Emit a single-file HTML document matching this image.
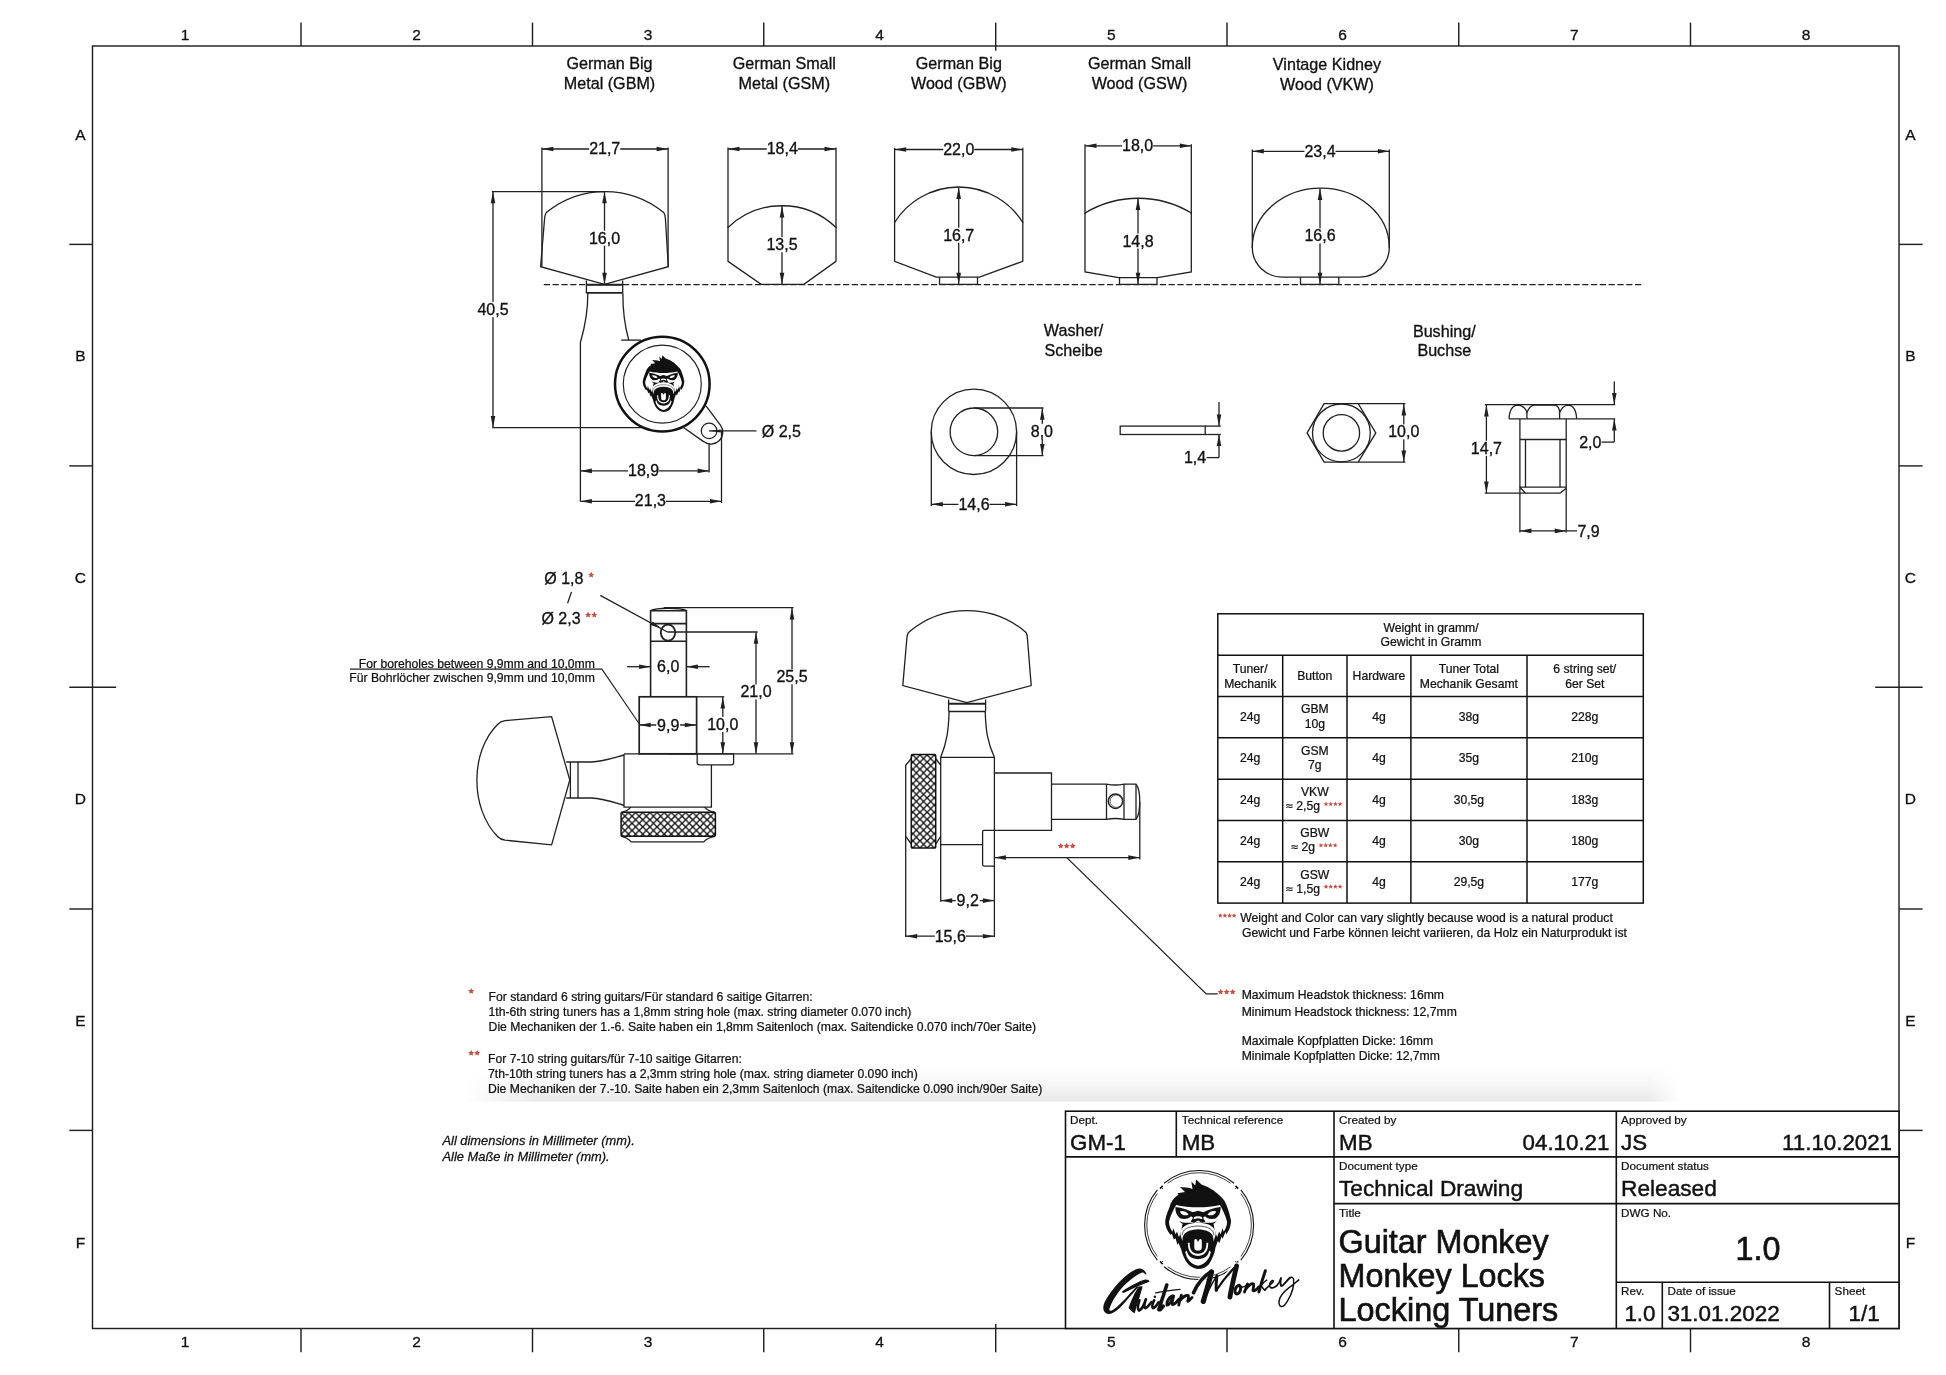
<!DOCTYPE html>
<html><head><meta charset="utf-8"><title>Guitar Monkey Locking Tuners - Technical Drawing</title>
<style>
html,body{margin:0;padding:0;background:#fff;}
body{width:1946px;height:1375px;overflow:hidden;font-family:"Liberation Sans",sans-serif;}
svg{display:block;will-change:transform;font-family:"Liberation Sans",sans-serif;}
svg text{white-space:pre;}
</style></head><body>
<svg width="1946" height="1375" viewBox="0 0 1946 1375">
<rect width="1946" height="1375" fill="#fff"/>
<rect x="92.5" y="46.0" width="1806.5" height="1282.5" fill="none" stroke="#202020" stroke-width="1.45"/>
<line x1="301.00" y1="22.60" x2="301.00" y2="46.00" stroke="#202020" stroke-width="1.45" />
<line x1="301.00" y1="1328.50" x2="301.00" y2="1352.30" stroke="#202020" stroke-width="1.45" />
<line x1="532.50" y1="22.60" x2="532.50" y2="46.00" stroke="#202020" stroke-width="1.45" />
<line x1="532.50" y1="1328.50" x2="532.50" y2="1352.30" stroke="#202020" stroke-width="1.45" />
<line x1="763.75" y1="22.60" x2="763.75" y2="46.00" stroke="#202020" stroke-width="1.45" />
<line x1="763.75" y1="1328.50" x2="763.75" y2="1352.30" stroke="#202020" stroke-width="1.45" />
<line x1="995.70" y1="22.60" x2="995.70" y2="50.70" stroke="#202020" stroke-width="1.45" />
<line x1="995.70" y1="1324.00" x2="995.70" y2="1352.30" stroke="#202020" stroke-width="1.45" />
<line x1="1227.00" y1="22.60" x2="1227.00" y2="46.00" stroke="#202020" stroke-width="1.45" />
<line x1="1227.00" y1="1328.50" x2="1227.00" y2="1352.30" stroke="#202020" stroke-width="1.45" />
<line x1="1458.75" y1="22.60" x2="1458.75" y2="46.00" stroke="#202020" stroke-width="1.45" />
<line x1="1458.75" y1="1328.50" x2="1458.75" y2="1352.30" stroke="#202020" stroke-width="1.45" />
<line x1="1690.50" y1="22.60" x2="1690.50" y2="46.00" stroke="#202020" stroke-width="1.45" />
<line x1="1690.50" y1="1328.50" x2="1690.50" y2="1352.30" stroke="#202020" stroke-width="1.45" />
<line x1="69.30" y1="244.40" x2="92.50" y2="244.40" stroke="#202020" stroke-width="1.45" />
<line x1="1899.00" y1="244.40" x2="1922.60" y2="244.40" stroke="#202020" stroke-width="1.45" />
<line x1="69.30" y1="465.90" x2="92.50" y2="465.90" stroke="#202020" stroke-width="1.45" />
<line x1="1899.00" y1="465.90" x2="1922.60" y2="465.90" stroke="#202020" stroke-width="1.45" />
<line x1="69.30" y1="687.20" x2="116.20" y2="687.20" stroke="#202020" stroke-width="1.45" />
<line x1="1875.20" y1="687.20" x2="1922.60" y2="687.20" stroke="#202020" stroke-width="1.45" />
<line x1="69.30" y1="909.00" x2="92.50" y2="909.00" stroke="#202020" stroke-width="1.45" />
<line x1="1899.00" y1="909.00" x2="1922.60" y2="909.00" stroke="#202020" stroke-width="1.45" />
<line x1="69.30" y1="1130.40" x2="92.50" y2="1130.40" stroke="#202020" stroke-width="1.45" />
<line x1="1899.00" y1="1130.40" x2="1922.60" y2="1130.40" stroke="#202020" stroke-width="1.45" />
<text x="185.00" y="40.10" font-size="15.5" text-anchor="middle" fill="#111" stroke="#111" stroke-width="0.31" >1</text>
<text x="185.00" y="1346.50" font-size="15.5" text-anchor="middle" fill="#111" stroke="#111" stroke-width="0.31" >1</text>
<text x="416.50" y="40.10" font-size="15.5" text-anchor="middle" fill="#111" stroke="#111" stroke-width="0.31" >2</text>
<text x="416.50" y="1346.50" font-size="15.5" text-anchor="middle" fill="#111" stroke="#111" stroke-width="0.31" >2</text>
<text x="648.00" y="40.10" font-size="15.5" text-anchor="middle" fill="#111" stroke="#111" stroke-width="0.31" >3</text>
<text x="648.00" y="1346.50" font-size="15.5" text-anchor="middle" fill="#111" stroke="#111" stroke-width="0.31" >3</text>
<text x="879.50" y="40.10" font-size="15.5" text-anchor="middle" fill="#111" stroke="#111" stroke-width="0.31" >4</text>
<text x="879.50" y="1346.50" font-size="15.5" text-anchor="middle" fill="#111" stroke="#111" stroke-width="0.31" >4</text>
<text x="1111.30" y="40.10" font-size="15.5" text-anchor="middle" fill="#111" stroke="#111" stroke-width="0.31" >5</text>
<text x="1111.30" y="1346.50" font-size="15.5" text-anchor="middle" fill="#111" stroke="#111" stroke-width="0.31" >5</text>
<text x="1342.60" y="40.10" font-size="15.5" text-anchor="middle" fill="#111" stroke="#111" stroke-width="0.31" >6</text>
<text x="1342.60" y="1346.50" font-size="15.5" text-anchor="middle" fill="#111" stroke="#111" stroke-width="0.31" >6</text>
<text x="1574.40" y="40.10" font-size="15.5" text-anchor="middle" fill="#111" stroke="#111" stroke-width="0.31" >7</text>
<text x="1574.40" y="1346.50" font-size="15.5" text-anchor="middle" fill="#111" stroke="#111" stroke-width="0.31" >7</text>
<text x="1806.00" y="40.10" font-size="15.5" text-anchor="middle" fill="#111" stroke="#111" stroke-width="0.31" >8</text>
<text x="1806.00" y="1346.50" font-size="15.5" text-anchor="middle" fill="#111" stroke="#111" stroke-width="0.31" >8</text>
<text x="80.40" y="140.00" font-size="15.5" text-anchor="middle" fill="#111" stroke="#111" stroke-width="0.31" >A</text>
<text x="1910.40" y="140.00" font-size="15.5" text-anchor="middle" fill="#111" stroke="#111" stroke-width="0.31" >A</text>
<text x="80.40" y="360.50" font-size="15.5" text-anchor="middle" fill="#111" stroke="#111" stroke-width="0.31" >B</text>
<text x="1910.40" y="360.50" font-size="15.5" text-anchor="middle" fill="#111" stroke="#111" stroke-width="0.31" >B</text>
<text x="80.40" y="582.50" font-size="15.5" text-anchor="middle" fill="#111" stroke="#111" stroke-width="0.31" >C</text>
<text x="1910.40" y="582.50" font-size="15.5" text-anchor="middle" fill="#111" stroke="#111" stroke-width="0.31" >C</text>
<text x="80.40" y="804.30" font-size="15.5" text-anchor="middle" fill="#111" stroke="#111" stroke-width="0.31" >D</text>
<text x="1910.40" y="804.30" font-size="15.5" text-anchor="middle" fill="#111" stroke="#111" stroke-width="0.31" >D</text>
<text x="80.40" y="1026.20" font-size="15.5" text-anchor="middle" fill="#111" stroke="#111" stroke-width="0.31" >E</text>
<text x="1910.40" y="1026.20" font-size="15.5" text-anchor="middle" fill="#111" stroke="#111" stroke-width="0.31" >E</text>
<text x="80.40" y="1248.20" font-size="15.5" text-anchor="middle" fill="#111" stroke="#111" stroke-width="0.31" >F</text>
<text x="1910.40" y="1248.20" font-size="15.5" text-anchor="middle" fill="#111" stroke="#111" stroke-width="0.31" >F</text>
<text x="609.50" y="69.30" font-size="16.15" text-anchor="middle" fill="#111" stroke="#111" stroke-width="0.32" >German Big</text>
<text x="609.50" y="89.20" font-size="16.15" text-anchor="middle" fill="#111" stroke="#111" stroke-width="0.32" >Metal (GBM)</text>
<text x="784.30" y="69.30" font-size="16.15" text-anchor="middle" fill="#111" stroke="#111" stroke-width="0.32" >German Small</text>
<text x="784.30" y="89.20" font-size="16.15" text-anchor="middle" fill="#111" stroke="#111" stroke-width="0.32" >Metal (GSM)</text>
<text x="958.80" y="69.30" font-size="16.15" text-anchor="middle" fill="#111" stroke="#111" stroke-width="0.32" >German Big</text>
<text x="958.80" y="89.20" font-size="16.15" text-anchor="middle" fill="#111" stroke="#111" stroke-width="0.32" >Wood (GBW)</text>
<text x="1139.50" y="69.30" font-size="16.15" text-anchor="middle" fill="#111" stroke="#111" stroke-width="0.32" >German Small</text>
<text x="1139.50" y="89.20" font-size="16.15" text-anchor="middle" fill="#111" stroke="#111" stroke-width="0.32" >Wood (GSW)</text>
<text x="1327.00" y="70.00" font-size="16.15" text-anchor="middle" fill="#111" stroke="#111" stroke-width="0.32" >Vintage Kidney</text>
<text x="1327.00" y="89.90" font-size="16.15" text-anchor="middle" fill="#111" stroke="#111" stroke-width="0.32" >Wood (VKW)</text>
<text x="1073.60" y="335.80" font-size="16.15" text-anchor="middle" fill="#111" stroke="#111" stroke-width="0.32" >Washer/</text>
<text x="1073.60" y="355.60" font-size="16.15" text-anchor="middle" fill="#111" stroke="#111" stroke-width="0.32" >Scheibe</text>
<text x="1444.30" y="336.80" font-size="16.15" text-anchor="middle" fill="#111" stroke="#111" stroke-width="0.32" >Bushing/</text>
<text x="1444.30" y="356.40" font-size="16.15" text-anchor="middle" fill="#111" stroke="#111" stroke-width="0.32" >Buchse</text>
<line x1="543.80" y1="284.60" x2="1641.50" y2="284.60" stroke="#202020" stroke-width="1.3" stroke-dasharray="6.2 2.6"/>
<line x1="541.90" y1="147.50" x2="541.90" y2="266.50" stroke="#202020" stroke-width="1.3" />
<line x1="668.10" y1="147.50" x2="668.10" y2="266.50" stroke="#202020" stroke-width="1.3" />
<line x1="541.90" y1="149.00" x2="668.10" y2="149.00" stroke="#202020" stroke-width="1.3" />
<polygon points="541.90,149.00 553.40,146.70 553.40,151.30" fill="#202020"/>
<polygon points="668.10,149.00 656.60,146.70 656.60,151.30" fill="#202020"/>
<rect x="589.20" y="142.00" width="31.00" height="14.00" fill="#fff"/>
<text x="604.70" y="154.40" font-size="16" text-anchor="middle" fill="#111" stroke="#111" stroke-width="0.32" >21,7</text>
<path d="M546.3,212.5 A92.7,92.7 0 0 1 663.7,212.5 Q665.2,214.8 665.4,218.5 L668.3,266.7 L604.5,284.3 L540.6,266.7 L544.6,218.5 Q544.8,214.8 546.3,212.5 Z" stroke="#202020" stroke-width="1.3" fill="none" />
<line x1="604.50" y1="191.80" x2="604.50" y2="284.20" stroke="#202020" stroke-width="1.3" />
<polygon points="604.50,191.80 602.20,203.30 606.80,203.30" fill="#202020"/>
<polygon points="604.50,284.20 602.20,272.70 606.80,272.70" fill="#202020"/>
<rect x="601.50" y="230.70" width="6.00" height="15.00" fill="#fff"/>
<text x="604.50" y="243.70" font-size="16" text-anchor="middle" fill="#111" stroke="#111" stroke-width="0.32" >16,0</text>
<line x1="491.80" y1="191.60" x2="604.50" y2="191.60" stroke="#202020" stroke-width="1.3" />
<line x1="492.30" y1="427.60" x2="642.50" y2="427.60" stroke="#202020" stroke-width="1.3" />
<line x1="493.00" y1="191.80" x2="493.00" y2="427.40" stroke="#202020" stroke-width="1.3" />
<polygon points="493.00,191.80 490.70,203.30 495.30,203.30" fill="#202020"/>
<polygon points="493.00,427.40 490.70,415.90 495.30,415.90" fill="#202020"/>
<rect x="490.00" y="302.10" width="6.00" height="15.00" fill="#fff"/>
<text x="493.00" y="315.10" font-size="16" text-anchor="middle" fill="#111" stroke="#111" stroke-width="0.32" >40,5</text>
<line x1="586.40" y1="280.40" x2="586.40" y2="293.20" stroke="#202020" stroke-width="1.3" />
<line x1="622.70" y1="280.40" x2="622.70" y2="293.20" stroke="#202020" stroke-width="1.3" />
<line x1="586.40" y1="284.70" x2="622.70" y2="284.70" stroke="#202020" stroke-width="1.9" />
<line x1="586.40" y1="292.90" x2="622.70" y2="292.90" stroke="#202020" stroke-width="1.6" />
<path d="M587.8,293.2 C588,312 584,330 580.4,342.5 L580.4,501.5" stroke="#202020" stroke-width="1.3" fill="none" />
<path d="M622.9,293.2 C622.6,312 625.5,328 628.7,340.1" stroke="#202020" stroke-width="1.3" fill="none" />
<line x1="621.20" y1="340.10" x2="641.00" y2="340.10" stroke="#202020" stroke-width="1.3" />
<path d="M706.0,405.9 L720.6,425.3 A11.9,11.9 0 0 1 703.6,441.6 L683.8,427.8" stroke="#202020" stroke-width="1.3" fill="none" />
<circle cx="662.30" cy="384.10" r="47.30" stroke="#111" stroke-width="2.5" fill="#fff"/>
<circle cx="662.30" cy="384.10" r="39.00" stroke="#202020" stroke-width="1.15" fill="none"/>
<circle cx="709.10" cy="430.90" r="7.80" stroke="#202020" stroke-width="1.25" fill="none"/>
<line x1="709.10" y1="430.90" x2="756.50" y2="430.90" stroke="#202020" stroke-width="1.3" />
<polygon points="709.3,430.9 720.8,429.4 720.8,432.4" fill="#202020"/>
<text x="761.80" y="436.70" font-size="16" text-anchor="start" fill="#111" stroke="#111" stroke-width="0.32" >Ø 2,5</text>
<line x1="709.10" y1="442.90" x2="709.10" y2="472.50" stroke="#202020" stroke-width="1.3" />
<line x1="721.50" y1="430.50" x2="721.50" y2="503.00" stroke="#202020" stroke-width="1.3" />
<line x1="580.40" y1="470.90" x2="709.10" y2="470.90" stroke="#202020" stroke-width="1.3" />
<polygon points="580.40,470.90 591.90,468.60 591.90,473.20" fill="#202020"/>
<polygon points="709.10,470.90 697.60,468.60 697.60,473.20" fill="#202020"/>
<rect x="628.10" y="463.90" width="31.00" height="14.00" fill="#fff"/>
<text x="643.60" y="476.20" font-size="16" text-anchor="middle" fill="#111" stroke="#111" stroke-width="0.32" >18,9</text>
<line x1="580.40" y1="501.30" x2="721.50" y2="501.30" stroke="#202020" stroke-width="1.3" />
<polygon points="580.40,501.30 591.90,499.00 591.90,503.60" fill="#202020"/>
<polygon points="721.50,501.30 710.00,499.00 710.00,503.60" fill="#202020"/>
<rect x="634.90" y="494.30" width="31.00" height="14.00" fill="#fff"/>
<text x="650.40" y="506.30" font-size="16" text-anchor="middle" fill="#111" stroke="#111" stroke-width="0.32" >21,3</text>
<line x1="728.00" y1="147.50" x2="728.00" y2="228.00" stroke="#202020" stroke-width="1.3" />
<line x1="836.00" y1="147.50" x2="836.00" y2="228.00" stroke="#202020" stroke-width="1.3" />
<line x1="728.00" y1="149.00" x2="836.00" y2="149.00" stroke="#202020" stroke-width="1.3" />
<polygon points="728.00,149.00 739.50,146.70 739.50,151.30" fill="#202020"/>
<polygon points="836.00,149.00 824.50,146.70 824.50,151.30" fill="#202020"/>
<rect x="766.80" y="142.00" width="31.00" height="14.00" fill="#fff"/>
<text x="782.30" y="154.40" font-size="16" text-anchor="middle" fill="#111" stroke="#111" stroke-width="0.32" >18,4</text>
<path d="M728,227.5 A77.9,77.9 0 0 1 836,227.5 L836,261.3 L803.8,284.4 L761.2,284.4 L728,261.3 Z" stroke="#202020" stroke-width="1.3" fill="none" />
<line x1="782.00" y1="206.00" x2="782.00" y2="284.20" stroke="#202020" stroke-width="1.3" />
<polygon points="782.00,206.00 779.70,217.50 784.30,217.50" fill="#202020"/>
<polygon points="782.00,284.20 779.70,272.70 784.30,272.70" fill="#202020"/>
<rect x="779.00" y="237.20" width="6.00" height="15.00" fill="#fff"/>
<text x="782.00" y="250.20" font-size="16" text-anchor="middle" fill="#111" stroke="#111" stroke-width="0.32" >13,5</text>
<line x1="894.60" y1="147.80" x2="894.60" y2="223.00" stroke="#202020" stroke-width="1.3" />
<line x1="1022.80" y1="147.80" x2="1022.80" y2="223.00" stroke="#202020" stroke-width="1.3" />
<line x1="894.60" y1="149.50" x2="1022.80" y2="149.50" stroke="#202020" stroke-width="1.3" />
<polygon points="894.60,149.50 906.10,147.20 906.10,151.80" fill="#202020"/>
<polygon points="1022.80,149.50 1011.30,147.20 1011.30,151.80" fill="#202020"/>
<rect x="943.30" y="142.50" width="31.00" height="14.00" fill="#fff"/>
<text x="958.80" y="155.10" font-size="16" text-anchor="middle" fill="#111" stroke="#111" stroke-width="0.32" >22,0</text>
<path d="M894.6,222.5 A75.6,75.6 0 0 1 1022.8,222.5 L1022.8,261.3 L979.5,277.1 L936.3,277.1 L894.6,261.3 Z" stroke="#202020" stroke-width="1.3" fill="none" />
<path d="M939.5,277.1 L939.5,284.4 L977.5,284.4 L977.5,277.1" stroke="#202020" stroke-width="1.3" fill="none" />
<line x1="958.70" y1="187.40" x2="958.70" y2="284.20" stroke="#202020" stroke-width="1.3" />
<polygon points="958.70,187.40 956.40,198.90 961.00,198.90" fill="#202020"/>
<polygon points="958.70,284.20 956.40,272.70 961.00,272.70" fill="#202020"/>
<rect x="955.70" y="227.70" width="6.00" height="15.00" fill="#fff"/>
<text x="958.70" y="240.70" font-size="16" text-anchor="middle" fill="#111" stroke="#111" stroke-width="0.32" >16,7</text>
<line x1="1085.00" y1="144.20" x2="1085.00" y2="214.00" stroke="#202020" stroke-width="1.3" />
<line x1="1191.30" y1="144.20" x2="1191.30" y2="214.00" stroke="#202020" stroke-width="1.3" />
<line x1="1085.00" y1="145.80" x2="1191.30" y2="145.80" stroke="#202020" stroke-width="1.3" />
<polygon points="1085.00,145.80 1096.50,143.50 1096.50,148.10" fill="#202020"/>
<polygon points="1191.30,145.80 1179.80,143.50 1179.80,148.10" fill="#202020"/>
<rect x="1122.10" y="138.80" width="31.00" height="14.00" fill="#fff"/>
<text x="1137.60" y="150.70" font-size="16" text-anchor="middle" fill="#111" stroke="#111" stroke-width="0.32" >18,0</text>
<path d="M1085,213 A103.1,103.1 0 0 1 1191.3,213 L1191.3,272 L1157.5,277.6 L1118.8,277.6 L1085,272 Z" stroke="#202020" stroke-width="1.3" fill="none" />
<path d="M1119.5,277.6 L1119.5,284.4 L1157,284.4 L1157,277.6" stroke="#202020" stroke-width="1.3" fill="none" />
<line x1="1138.00" y1="198.50" x2="1138.00" y2="284.20" stroke="#202020" stroke-width="1.3" />
<polygon points="1138.00,198.50 1135.70,210.00 1140.30,210.00" fill="#202020"/>
<polygon points="1138.00,284.20 1135.70,272.70 1140.30,272.70" fill="#202020"/>
<rect x="1135.00" y="233.50" width="6.00" height="15.00" fill="#fff"/>
<text x="1138.00" y="246.50" font-size="16" text-anchor="middle" fill="#111" stroke="#111" stroke-width="0.32" >14,8</text>
<line x1="1252.30" y1="149.60" x2="1252.30" y2="248.00" stroke="#202020" stroke-width="1.3" />
<line x1="1389.30" y1="149.60" x2="1389.30" y2="248.00" stroke="#202020" stroke-width="1.3" />
<line x1="1252.30" y1="151.30" x2="1389.30" y2="151.30" stroke="#202020" stroke-width="1.3" />
<polygon points="1252.30,151.30 1263.80,149.00 1263.80,153.60" fill="#202020"/>
<polygon points="1389.30,151.30 1377.80,149.00 1377.80,153.60" fill="#202020"/>
<rect x="1304.50" y="144.30" width="31.00" height="14.00" fill="#fff"/>
<text x="1320.00" y="156.90" font-size="16" text-anchor="middle" fill="#111" stroke="#111" stroke-width="0.32" >23,4</text>
<path d="M1252.3,247.5 A68.5,59.3 0 0 1 1389.3,247.5 A30,29.6 0 0 1 1359.3,277.1 L1282.3,277.1 A30,29.6 0 0 1 1252.3,247.5 Z" stroke="#202020" stroke-width="1.3" fill="none" />
<path d="M1300.5,277.1 L1300.5,284.4 L1338.8,284.4 L1338.8,277.1" stroke="#202020" stroke-width="1.3" fill="none" />
<line x1="1320.00" y1="188.40" x2="1320.00" y2="284.20" stroke="#202020" stroke-width="1.3" />
<polygon points="1320.00,188.40 1317.70,199.90 1322.30,199.90" fill="#202020"/>
<polygon points="1320.00,284.20 1317.70,272.70 1322.30,272.70" fill="#202020"/>
<rect x="1317.00" y="228.40" width="6.00" height="15.00" fill="#fff"/>
<text x="1320.00" y="241.40" font-size="16" text-anchor="middle" fill="#111" stroke="#111" stroke-width="0.32" >16,6</text>
<circle cx="973.90" cy="431.80" r="42.70" stroke="#202020" stroke-width="1.3" fill="none"/>
<circle cx="973.90" cy="431.80" r="23.80" stroke="#202020" stroke-width="1.3" fill="none"/>
<line x1="973.90" y1="408.00" x2="1043.50" y2="408.00" stroke="#202020" stroke-width="1.3" />
<line x1="973.90" y1="455.60" x2="1043.50" y2="455.60" stroke="#202020" stroke-width="1.3" />
<line x1="1042.30" y1="408.20" x2="1042.30" y2="455.40" stroke="#202020" stroke-width="1.3" />
<polygon points="1042.30,408.20 1040.00,419.70 1044.60,419.70" fill="#202020"/>
<polygon points="1042.30,455.40 1040.00,443.90 1044.60,443.90" fill="#202020"/>
<rect x="1039.30" y="423.80" width="6.00" height="15.00" fill="#fff"/>
<text x="1041.90" y="436.80" font-size="16" text-anchor="middle" fill="#111" stroke="#111" stroke-width="0.32" >8,0</text>
<line x1="931.30" y1="431.80" x2="931.30" y2="506.00" stroke="#202020" stroke-width="1.3" />
<line x1="1016.60" y1="431.80" x2="1016.60" y2="506.00" stroke="#202020" stroke-width="1.3" />
<line x1="931.30" y1="504.30" x2="1016.60" y2="504.30" stroke="#202020" stroke-width="1.3" />
<polygon points="931.30,504.30 942.80,502.00 942.80,506.60" fill="#202020"/>
<polygon points="1016.60,504.30 1005.10,502.00 1005.10,506.60" fill="#202020"/>
<rect x="958.50" y="497.30" width="31.00" height="14.00" fill="#fff"/>
<text x="974.00" y="509.50" font-size="16" text-anchor="middle" fill="#111" stroke="#111" stroke-width="0.32" >14,6</text>
<rect x="1120.2" y="426.1" width="85.0" height="8.4" fill="none" stroke="#202020" stroke-width="1.3"/>
<line x1="1205.20" y1="426.10" x2="1220.80" y2="426.10" stroke="#202020" stroke-width="1.3" />
<line x1="1205.20" y1="434.50" x2="1220.80" y2="434.50" stroke="#202020" stroke-width="1.3" />
<line x1="1219.00" y1="402.00" x2="1219.00" y2="426.00" stroke="#202020" stroke-width="1.3" />
<polygon points="1219.00,426.00 1216.70,414.50 1221.30,414.50" fill="#202020"/>
<line x1="1219.00" y1="457.60" x2="1219.00" y2="434.60" stroke="#202020" stroke-width="1.3" />
<polygon points="1219.00,434.60 1216.70,446.10 1221.30,446.10" fill="#202020"/>
<line x1="1206.60" y1="457.60" x2="1219.00" y2="457.60" stroke="#202020" stroke-width="1.3" />
<text x="1206.20" y="463.20" font-size="16" text-anchor="end" fill="#111" stroke="#111" stroke-width="0.32" >1,4</text>
<path d="M1307.1,432.9 L1324.1,403.7 L1358.2,403.7 L1375.8,432.9 L1358.2,462.2 L1324.1,462.2 Z" stroke="#202020" stroke-width="1.3" fill="none" />
<circle cx="1341.40" cy="432.90" r="28.90" stroke="#202020" stroke-width="1.3" fill="none"/>
<circle cx="1341.40" cy="432.90" r="18.20" stroke="#202020" stroke-width="1.3" fill="none"/>
<line x1="1358.20" y1="403.70" x2="1405.40" y2="403.70" stroke="#202020" stroke-width="1.3" />
<line x1="1358.20" y1="462.20" x2="1405.40" y2="462.20" stroke="#202020" stroke-width="1.3" />
<line x1="1403.80" y1="403.90" x2="1403.80" y2="462.00" stroke="#202020" stroke-width="1.3" />
<polygon points="1403.80,403.90 1401.50,415.40 1406.10,415.40" fill="#202020"/>
<polygon points="1403.80,462.00 1401.50,450.50 1406.10,450.50" fill="#202020"/>
<rect x="1400.80" y="424.40" width="6.00" height="15.00" fill="#fff"/>
<text x="1403.80" y="437.40" font-size="16" text-anchor="middle" fill="#111" stroke="#111" stroke-width="0.32" >10,0</text>
<line x1="1484.80" y1="404.70" x2="1615.20" y2="404.70" stroke="#202020" stroke-width="1.3" />
<path d="M1509.0,418.9 C1509.5,409 1513,405.4 1518,405.2 C1523,405.4 1526.5,409 1526.9,413 C1528.5,408 1531,405.6 1534,405.2 L1554.5,405.2 C1557.5,405.6 1559.6,408 1559.6,413 C1561,409 1564,405.4 1568,405.2 C1573,405.4 1576.2,409 1576.6,418.9" stroke="#202020" stroke-width="1.3" fill="none" />
<line x1="1526.90" y1="413.00" x2="1526.90" y2="418.90" stroke="#202020" stroke-width="1.3" />
<line x1="1559.60" y1="413.00" x2="1559.60" y2="418.90" stroke="#202020" stroke-width="1.3" />
<line x1="1509.00" y1="418.90" x2="1615.20" y2="418.90" stroke="#202020" stroke-width="1.3" />
<line x1="1519.90" y1="418.90" x2="1519.90" y2="532.50" stroke="#202020" stroke-width="1.3" />
<line x1="1566.20" y1="418.90" x2="1566.20" y2="532.50" stroke="#202020" stroke-width="1.3" />
<line x1="1519.90" y1="439.50" x2="1566.20" y2="439.50" stroke="#202020" stroke-width="1.3" />
<line x1="1519.90" y1="487.20" x2="1566.20" y2="487.20" stroke="#202020" stroke-width="1.3" />
<line x1="1525.50" y1="439.50" x2="1525.50" y2="487.20" stroke="#202020" stroke-width="1.3" />
<line x1="1560.00" y1="439.50" x2="1560.00" y2="487.20" stroke="#202020" stroke-width="1.3" />
<path d="M1519.9,487.2 L1525.5,493.2 M1566.2,488.2 L1560.0,493.2" stroke="#202020" stroke-width="1.3" fill="none" />
<line x1="1484.80" y1="493.20" x2="1560.00" y2="493.20" stroke="#202020" stroke-width="1.3" />
<line x1="1486.40" y1="404.90" x2="1486.40" y2="493.00" stroke="#202020" stroke-width="1.3" />
<polygon points="1486.40,404.90 1484.10,416.40 1488.70,416.40" fill="#202020"/>
<polygon points="1486.40,493.00 1484.10,481.50 1488.70,481.50" fill="#202020"/>
<rect x="1483.40" y="440.80" width="6.00" height="15.00" fill="#fff"/>
<text x="1486.40" y="453.80" font-size="16" text-anchor="middle" fill="#111" stroke="#111" stroke-width="0.32" >14,7</text>
<line x1="1614.30" y1="381.40" x2="1614.30" y2="404.60" stroke="#202020" stroke-width="1.3" />
<polygon points="1614.30,404.60 1612.00,393.10 1616.60,393.10" fill="#202020"/>
<line x1="1614.30" y1="442.10" x2="1614.30" y2="419.00" stroke="#202020" stroke-width="1.3" />
<polygon points="1614.30,419.00 1612.00,430.50 1616.60,430.50" fill="#202020"/>
<line x1="1601.60" y1="442.10" x2="1614.30" y2="442.10" stroke="#202020" stroke-width="1.3" />
<text x="1601.40" y="447.70" font-size="16" text-anchor="end" fill="#111" stroke="#111" stroke-width="0.32" >2,0</text>
<line x1="1519.90" y1="530.90" x2="1577.00" y2="530.90" stroke="#202020" stroke-width="1.3" />
<polygon points="1519.90,530.90 1531.40,528.60 1531.40,533.20" fill="#202020"/>
<polygon points="1566.20,530.90 1554.70,528.60 1554.70,533.20" fill="#202020"/>
<text x="1577.40" y="536.50" font-size="16" text-anchor="start" fill="#111" stroke="#111" stroke-width="0.32" >7,9</text>
<text x="544.30" y="583.90" font-size="16" text-anchor="start" fill="#111" stroke="#111" stroke-width="0.32" >Ø 1,8</text>
<polygon points="591.20,571.60 592.07,573.70 594.34,573.88 592.61,575.36 593.14,577.57 591.20,576.38 589.26,577.57 589.79,575.36 588.06,573.88 590.33,573.70" fill="#ca4a3f"/>
<line x1="571.50" y1="591.90" x2="567.60" y2="603.20" stroke="#202020" stroke-width="1.3" />
<text x="541.40" y="623.50" font-size="16" text-anchor="start" fill="#111" stroke="#111" stroke-width="0.32" >Ø 2,3</text>
<polygon points="588.10,611.60 588.97,613.70 591.24,613.88 589.51,615.36 590.04,617.57 588.10,616.38 586.16,617.57 586.69,615.36 584.96,613.88 587.23,613.70" fill="#ca4a3f"/>
<polygon points="594.30,611.60 595.17,613.70 597.44,613.88 595.71,615.36 596.24,617.57 594.30,616.38 592.36,617.57 592.89,615.36 591.16,613.88 593.43,613.70" fill="#ca4a3f"/>
<line x1="600.30" y1="595.40" x2="667.40" y2="632.00" stroke="#202020" stroke-width="1.3" />
<polygon points="661.6,628.8 652.6,621.4 650.6,625.1" fill="#202020"/>
<path d="M650.6,696.5 L650.6,610.8 C656,607.4 681,607.4 686.4,610.8 L686.4,696.5" stroke="#202020" stroke-width="1.6" fill="none" />
<line x1="650.60" y1="610.80" x2="686.40" y2="610.80" stroke="#202020" stroke-width="1.6" />
<line x1="650.60" y1="623.60" x2="686.40" y2="623.60" stroke="#202020" stroke-width="1.6" />
<line x1="650.60" y1="641.20" x2="686.40" y2="641.20" stroke="#202020" stroke-width="1.6" />
<ellipse cx="668.0" cy="632.6" rx="7.2" ry="8.1" fill="none" stroke="#202020" stroke-width="1.8"/>
<line x1="663.70" y1="607.70" x2="793.50" y2="607.70" stroke="#202020" stroke-width="1.3" />
<line x1="667.40" y1="632.00" x2="757.60" y2="632.00" stroke="#202020" stroke-width="1.3" />
<line x1="668.60" y1="753.90" x2="793.50" y2="753.90" stroke="#202020" stroke-width="1.3" />
<line x1="792.00" y1="607.90" x2="792.00" y2="753.70" stroke="#202020" stroke-width="1.3" />
<polygon points="792.00,607.90 789.70,619.40 794.30,619.40" fill="#202020"/>
<polygon points="792.00,753.70 789.70,742.20 794.30,742.20" fill="#202020"/>
<rect x="789.00" y="669.30" width="6.00" height="15.00" fill="#fff"/>
<text x="792.00" y="682.30" font-size="16" text-anchor="middle" fill="#111" stroke="#111" stroke-width="0.32" >25,5</text>
<line x1="756.00" y1="632.20" x2="756.00" y2="753.70" stroke="#202020" stroke-width="1.3" />
<polygon points="756.00,632.20 753.70,643.70 758.30,643.70" fill="#202020"/>
<polygon points="756.00,753.70 753.70,742.20 758.30,742.20" fill="#202020"/>
<rect x="753.00" y="684.40" width="6.00" height="15.00" fill="#fff"/>
<text x="756.00" y="697.40" font-size="16" text-anchor="middle" fill="#111" stroke="#111" stroke-width="0.32" >21,0</text>
<line x1="627.10" y1="666.70" x2="650.60" y2="666.70" stroke="#202020" stroke-width="1.3" />
<polygon points="650.60,666.70 639.10,664.40 639.10,669.00" fill="#202020"/>
<line x1="709.70" y1="666.70" x2="686.40" y2="666.70" stroke="#202020" stroke-width="1.3" />
<polygon points="686.40,666.70 697.90,664.40 697.90,669.00" fill="#202020"/>
<text x="668.20" y="671.90" font-size="16" text-anchor="middle" fill="#111" stroke="#111" stroke-width="0.32" >6,0</text>
<rect x="639.2" y="696.8" width="57.4" height="57.0" fill="none" stroke="#202020" stroke-width="1.7"/>
<line x1="696.30" y1="696.80" x2="724.20" y2="696.80" stroke="#202020" stroke-width="1.3" />
<line x1="639.20" y1="725.00" x2="696.30" y2="725.00" stroke="#202020" stroke-width="1.3" />
<polygon points="639.20,725.00 650.70,722.70 650.70,727.30" fill="#202020"/>
<polygon points="696.30,725.00 684.80,722.70 684.80,727.30" fill="#202020"/>
<rect x="656.20" y="718.00" width="24.00" height="14.00" fill="#fff"/>
<text x="668.20" y="730.60" font-size="16" text-anchor="middle" fill="#111" stroke="#111" stroke-width="0.32" >9,9</text>
<line x1="722.80" y1="697.00" x2="722.80" y2="753.70" stroke="#202020" stroke-width="1.3" />
<polygon points="722.80,697.00 720.50,708.50 725.10,708.50" fill="#202020"/>
<polygon points="722.80,753.70 720.50,742.20 725.10,742.20" fill="#202020"/>
<rect x="719.80" y="716.90" width="6.00" height="15.00" fill="#fff"/>
<text x="722.80" y="729.90" font-size="16" text-anchor="middle" fill="#111" stroke="#111" stroke-width="0.32" >10,0</text>
<text x="594.90" y="667.70" font-size="12.18" text-anchor="end" fill="#111" stroke="#111" stroke-width="0.24" >For boreholes between 9,9mm and 10,0mm</text>
<text x="594.90" y="682.20" font-size="12.18" text-anchor="end" fill="#111" stroke="#111" stroke-width="0.24" >Für Bohrlöcher zwischen 9,9mm und 10,0mm</text>
<path d="M350.0,669.1 L601.9,669.1 L639.2,723.7" stroke="#202020" stroke-width="1.15" fill="none" />
<path d="M624.0,753.9 L734.0,753.9 M624.0,753.9 L624.0,807.2 L711.4,807.2 L711.4,764.8" stroke="#202020" stroke-width="1.3" fill="none" />
<path d="M697.2,753.9 L697.2,762.6 C697.2,764 698,764.8 699.4,764.8 L731.4,764.8 C732.8,764.8 733.6,764 733.6,762.6 L733.6,753.9" stroke="#202020" stroke-width="1.3" fill="none" />
<defs><pattern id="kn" width="7.15" height="7.15" patternUnits="userSpaceOnUse" patternTransform="translate(621.3,812.6)"><rect width="7.15" height="7.15" fill="#fff"/><path d="M-1,-1 L8.15,8.15 M-1,8.15 L8.15,-1" stroke="#111" stroke-width="1.35" fill="none"/></pattern>
<pattern id="kn2" width="7.15" height="7.15" patternUnits="userSpaceOnUse" patternTransform="translate(912.8,755.0)"><rect width="7.15" height="7.15" fill="#fff"/><path d="M-1,-1 L8.15,8.15 M-1,8.15 L8.15,-1" stroke="#111" stroke-width="1.35" fill="none"/></pattern></defs>
<path d="M621.5,812.3 C626,811.6 628.5,810 630.8,807.2 M704.5,807.2 C706.8,810 709.5,811.6 715,812.3" stroke="#202020" stroke-width="1.3" fill="none" />
<path d="M621.5,836.3 C626,837 628.5,839 631.2,841.9 L703.7,841.9 C706.4,839 709.5,837 715,836.3" stroke="#202020" stroke-width="1.3" fill="none" />
<rect x="621.1" y="812.3" width="94.3" height="24.0" rx="1.2" fill="url(#kn)" stroke="#111" stroke-width="1.5"/>
<path d="M578.0,762.0 L591.0,762.0 C604,761.5 613,758 624.0,755.0" stroke="#202020" stroke-width="1.3" fill="none" />
<path d="M578.0,798.0 L591.0,798.0 C604,798.5 613,802 624.0,805.4" stroke="#202020" stroke-width="1.3" fill="none" />
<path d="M566.2,762.0 L578.0,762.0 L578.0,798.0 L566.2,798.0" stroke="#202020" stroke-width="1.3" fill="none" />
<line x1="570.40" y1="762.00" x2="570.40" y2="798.00" stroke="#202020" stroke-width="1.3" />
<path d="M505,720.7 L551.6,716.6 L569.8,780.0 L551.6,844.9 L505,840.2 Q500.5,839.6 497.5,836.5 C470,808 470,752 497.5,724.5 Q500.5,721.3 505,720.7 Z" stroke="#202020" stroke-width="1.3" fill="none" />
<path d="M908.5,632.4 A90,90 0 0 1 1026,632.4 Q1027.3,634.5 1027.4,638 L1031.2,685.6 L966.8,702.6 L902.8,685.6 L906.9,638 Q907.2,634.5 908.5,632.4 Z" stroke="#202020" stroke-width="1.3" fill="none" />
<line x1="948.60" y1="699.50" x2="948.60" y2="711.50" stroke="#202020" stroke-width="1.3" />
<line x1="985.60" y1="699.50" x2="985.60" y2="711.50" stroke="#202020" stroke-width="1.3" />
<line x1="948.60" y1="703.80" x2="985.60" y2="703.80" stroke="#202020" stroke-width="1.9" />
<line x1="948.60" y1="711.60" x2="985.60" y2="711.60" stroke="#202020" stroke-width="1.5" />
<path d="M949.1,711.6 C948.5,730 947,742 940.7,757.3 L940.7,901.8" stroke="#202020" stroke-width="1.3" fill="none" />
<path d="M985.2,711.6 C985.8,730 987.3,742 994.4,757.3 L994.4,937.0" stroke="#202020" stroke-width="1.3" fill="none" />
<line x1="940.70" y1="757.30" x2="994.40" y2="757.30" stroke="#202020" stroke-width="1.3" />
<line x1="940.70" y1="844.60" x2="982.60" y2="844.60" stroke="#202020" stroke-width="1.3" />
<path d="M935.7,758.5 L940.7,765.3 M935.7,844.0 L940.7,836.3" stroke="#202020" stroke-width="1.3" fill="none" />
<path d="M911.3,758.5 L905.7,765.3 L905.7,836.3 L911.3,844.0" stroke="#202020" stroke-width="1.3" fill="none" />
<line x1="905.70" y1="836.30" x2="905.70" y2="937.00" stroke="#202020" stroke-width="1.3" />
<rect x="911.3" y="754.5" width="24.4" height="93.6" rx="1.2" fill="url(#kn2)" stroke="#111" stroke-width="1.5"/>
<path d="M994.4,773.0 L1051.5,773.0 L1051.5,830.4 L984.0,830.4 C983,830.4 982.6,831 982.6,832 L982.6,864.5 C982.6,865.6 983.2,866.1 984.2,866.1 L994.4,866.1" stroke="#202020" stroke-width="1.3" fill="none" />
<path d="M1051.5,784.1 L1106.5,784.1 C1112,785.2 1119,785.2 1124.0,784.1 L1136.0,784.1 C1141,790 1141,813 1136.0,819.4 L1124.0,819.4 C1119,818.3 1112,818.3 1106.5,819.4 L1051.5,819.4" stroke="#202020" stroke-width="1.3" fill="none" />
<line x1="1106.50" y1="784.10" x2="1106.50" y2="819.40" stroke="#202020" stroke-width="1.3" />
<line x1="1124.00" y1="784.10" x2="1124.00" y2="819.40" stroke="#202020" stroke-width="1.3" />
<line x1="1136.00" y1="784.10" x2="1136.00" y2="819.40" stroke="#202020" stroke-width="1.3" />
<circle cx="1115.50" cy="801.20" r="7.20" stroke="#202020" stroke-width="1.5" fill="none"/>
<circle cx="1116.30" cy="801.20" r="6.20" stroke="#444" stroke-width="0.8" fill="none"/>
<line x1="1139.80" y1="801.90" x2="1139.80" y2="859.50" stroke="#202020" stroke-width="1.3" />
<line x1="994.40" y1="857.60" x2="1139.80" y2="857.60" stroke="#202020" stroke-width="1.3" />
<polygon points="994.40,857.60 1005.90,855.30 1005.90,859.90" fill="#202020"/>
<polygon points="1139.80,857.60 1128.30,855.30 1128.30,859.90" fill="#202020"/>
<polygon points="1060.70,842.80 1061.55,844.84 1063.74,845.01 1062.07,846.44 1062.58,848.59 1060.70,847.44 1058.82,848.59 1059.33,846.44 1057.66,845.01 1059.85,844.84" fill="#ca4a3f"/>
<polygon points="1066.70,842.80 1067.55,844.84 1069.74,845.01 1068.07,846.44 1068.58,848.59 1066.70,847.44 1064.82,848.59 1065.33,846.44 1063.66,845.01 1065.85,844.84" fill="#ca4a3f"/>
<polygon points="1072.70,842.80 1073.55,844.84 1075.74,845.01 1074.07,846.44 1074.58,848.59 1072.70,847.44 1070.82,848.59 1071.33,846.44 1069.66,845.01 1071.85,844.84" fill="#ca4a3f"/>
<path d="M1066.8,857.6 L1206.2,993.9 L1217.7,993.9" stroke="#202020" stroke-width="1.3" fill="none" />
<line x1="940.70" y1="900.60" x2="994.40" y2="900.60" stroke="#202020" stroke-width="1.3" />
<polygon points="940.70,900.60 952.20,898.30 952.20,902.90" fill="#202020"/>
<polygon points="994.40,900.60 982.90,898.30 982.90,902.90" fill="#202020"/>
<rect x="955.70" y="893.60" width="24.00" height="14.00" fill="#fff"/>
<text x="967.70" y="906.40" font-size="16" text-anchor="middle" fill="#111" stroke="#111" stroke-width="0.32" >9,2</text>
<line x1="905.70" y1="936.20" x2="994.40" y2="936.20" stroke="#202020" stroke-width="1.3" />
<polygon points="905.70,936.20 917.20,933.90 917.20,938.50" fill="#202020"/>
<polygon points="994.40,936.20 982.90,933.90 982.90,938.50" fill="#202020"/>
<rect x="934.80" y="929.20" width="31.00" height="14.00" fill="#fff"/>
<text x="950.30" y="942.00" font-size="16" text-anchor="middle" fill="#111" stroke="#111" stroke-width="0.32" >15,6</text>
<rect x="1217.8" y="613.8" width="425.5" height="289.30000000000007" fill="none" stroke="#111" stroke-width="1.5"/>
<line x1="1217.80" y1="655.30" x2="1643.30" y2="655.30" stroke="#111" stroke-width="1.5" />
<line x1="1217.80" y1="696.60" x2="1643.30" y2="696.60" stroke="#111" stroke-width="1.5" />
<line x1="1217.80" y1="737.80" x2="1643.30" y2="737.80" stroke="#111" stroke-width="1.5" />
<line x1="1217.80" y1="779.30" x2="1643.30" y2="779.30" stroke="#111" stroke-width="1.5" />
<line x1="1217.80" y1="820.40" x2="1643.30" y2="820.40" stroke="#111" stroke-width="1.5" />
<line x1="1217.80" y1="861.80" x2="1643.30" y2="861.80" stroke="#111" stroke-width="1.5" />
<line x1="1282.70" y1="655.30" x2="1282.70" y2="903.10" stroke="#111" stroke-width="1.5" />
<line x1="1347.00" y1="655.30" x2="1347.00" y2="903.10" stroke="#111" stroke-width="1.5" />
<line x1="1410.90" y1="655.30" x2="1410.90" y2="903.10" stroke="#111" stroke-width="1.5" />
<line x1="1527.00" y1="655.30" x2="1527.00" y2="903.10" stroke="#111" stroke-width="1.5" />
<text x="1431.00" y="631.90" font-size="12.18" text-anchor="middle" fill="#111" stroke="#111" stroke-width="0.24" >Weight in gramm/</text>
<text x="1431.00" y="646.10" font-size="12.18" text-anchor="middle" fill="#111" stroke="#111" stroke-width="0.24" >Gewicht in Gramm</text>
<text x="1250.20" y="672.80" font-size="12.18" text-anchor="middle" fill="#111" stroke="#111" stroke-width="0.24" >Tuner/</text>
<text x="1250.20" y="687.50" font-size="12.18" text-anchor="middle" fill="#111" stroke="#111" stroke-width="0.24" >Mechanik</text>
<text x="1314.80" y="680.40" font-size="12.18" text-anchor="middle" fill="#111" stroke="#111" stroke-width="0.24" >Button</text>
<text x="1379.00" y="680.40" font-size="12.18" text-anchor="middle" fill="#111" stroke="#111" stroke-width="0.24" >Hardware</text>
<text x="1468.90" y="672.80" font-size="12.18" text-anchor="middle" fill="#111" stroke="#111" stroke-width="0.24" >Tuner Total</text>
<text x="1468.90" y="687.50" font-size="12.18" text-anchor="middle" fill="#111" stroke="#111" stroke-width="0.24" >Mechanik Gesamt</text>
<text x="1584.80" y="672.80" font-size="12.18" text-anchor="middle" fill="#111" stroke="#111" stroke-width="0.24" >6 string set/</text>
<text x="1584.80" y="687.50" font-size="12.18" text-anchor="middle" fill="#111" stroke="#111" stroke-width="0.24" >6er Set</text>
<text x="1250.20" y="720.90" font-size="12.18" text-anchor="middle" fill="#111" stroke="#111" stroke-width="0.24" >24g</text>
<text x="1379.00" y="720.90" font-size="12.18" text-anchor="middle" fill="#111" stroke="#111" stroke-width="0.24" >4g</text>
<text x="1468.90" y="720.90" font-size="12.18" text-anchor="middle" fill="#111" stroke="#111" stroke-width="0.24" >38g</text>
<text x="1584.80" y="720.90" font-size="12.18" text-anchor="middle" fill="#111" stroke="#111" stroke-width="0.24" >228g</text>
<text x="1314.80" y="713.30" font-size="12.18" text-anchor="middle" fill="#111" stroke="#111" stroke-width="0.24" >GBM</text>
<text x="1314.80" y="727.50" font-size="12.18" text-anchor="middle" fill="#111" stroke="#111" stroke-width="0.24" >10g</text>
<text x="1250.20" y="762.25" font-size="12.18" text-anchor="middle" fill="#111" stroke="#111" stroke-width="0.24" >24g</text>
<text x="1379.00" y="762.25" font-size="12.18" text-anchor="middle" fill="#111" stroke="#111" stroke-width="0.24" >4g</text>
<text x="1468.90" y="762.25" font-size="12.18" text-anchor="middle" fill="#111" stroke="#111" stroke-width="0.24" >35g</text>
<text x="1584.80" y="762.25" font-size="12.18" text-anchor="middle" fill="#111" stroke="#111" stroke-width="0.24" >210g</text>
<text x="1314.80" y="754.65" font-size="12.18" text-anchor="middle" fill="#111" stroke="#111" stroke-width="0.24" >GSM</text>
<text x="1314.80" y="768.85" font-size="12.18" text-anchor="middle" fill="#111" stroke="#111" stroke-width="0.24" >7g</text>
<text x="1250.20" y="803.55" font-size="12.18" text-anchor="middle" fill="#111" stroke="#111" stroke-width="0.24" >24g</text>
<text x="1379.00" y="803.55" font-size="12.18" text-anchor="middle" fill="#111" stroke="#111" stroke-width="0.24" >4g</text>
<text x="1468.90" y="803.55" font-size="12.18" text-anchor="middle" fill="#111" stroke="#111" stroke-width="0.24" >30,5g</text>
<text x="1584.80" y="803.55" font-size="12.18" text-anchor="middle" fill="#111" stroke="#111" stroke-width="0.24" >183g</text>
<text x="1314.80" y="795.95" font-size="12.18" text-anchor="middle" fill="#111" stroke="#111" stroke-width="0.24" >VKW</text>
<text x="1286.20" y="810.15" font-size="12.18" text-anchor="start" fill="#111" stroke="#111" stroke-width="0.24" >≈ 2,5g</text>
<polygon points="1325.96,801.55 1326.62,803.14 1328.34,803.28 1327.03,804.40 1327.43,806.07 1325.96,805.17 1324.49,806.07 1324.89,804.40 1323.58,803.28 1325.30,803.14" fill="#ca4a3f"/>
<polygon points="1330.68,801.55 1331.34,803.14 1333.06,803.28 1331.75,804.40 1332.15,806.07 1330.68,805.17 1329.21,806.07 1329.61,804.40 1328.30,803.28 1330.02,803.14" fill="#ca4a3f"/>
<polygon points="1335.40,801.55 1336.06,803.14 1337.78,803.28 1336.47,804.40 1336.87,806.07 1335.40,805.17 1333.93,806.07 1334.33,804.40 1333.02,803.28 1334.74,803.14" fill="#ca4a3f"/>
<polygon points="1340.12,801.55 1340.78,803.14 1342.50,803.28 1341.19,804.40 1341.59,806.07 1340.12,805.17 1338.65,806.07 1339.05,804.40 1337.74,803.28 1339.46,803.14" fill="#ca4a3f"/>
<text x="1250.20" y="844.80" font-size="12.18" text-anchor="middle" fill="#111" stroke="#111" stroke-width="0.24" >24g</text>
<text x="1379.00" y="844.80" font-size="12.18" text-anchor="middle" fill="#111" stroke="#111" stroke-width="0.24" >4g</text>
<text x="1468.90" y="844.80" font-size="12.18" text-anchor="middle" fill="#111" stroke="#111" stroke-width="0.24" >30g</text>
<text x="1584.80" y="844.80" font-size="12.18" text-anchor="middle" fill="#111" stroke="#111" stroke-width="0.24" >180g</text>
<text x="1314.80" y="837.20" font-size="12.18" text-anchor="middle" fill="#111" stroke="#111" stroke-width="0.24" >GBW</text>
<text x="1291.50" y="851.40" font-size="12.18" text-anchor="start" fill="#111" stroke="#111" stroke-width="0.24" >≈ 2g</text>
<polygon points="1320.96,842.80 1321.62,844.39 1323.34,844.53 1322.03,845.65 1322.43,847.32 1320.96,846.42 1319.49,847.32 1319.89,845.65 1318.58,844.53 1320.30,844.39" fill="#ca4a3f"/>
<polygon points="1325.68,842.80 1326.34,844.39 1328.06,844.53 1326.75,845.65 1327.15,847.32 1325.68,846.42 1324.21,847.32 1324.61,845.65 1323.30,844.53 1325.02,844.39" fill="#ca4a3f"/>
<polygon points="1330.40,842.80 1331.06,844.39 1332.78,844.53 1331.47,845.65 1331.87,847.32 1330.40,846.42 1328.93,847.32 1329.33,845.65 1328.02,844.53 1329.74,844.39" fill="#ca4a3f"/>
<polygon points="1335.12,842.80 1335.78,844.39 1337.50,844.53 1336.19,845.65 1336.59,847.32 1335.12,846.42 1333.65,847.32 1334.05,845.65 1332.74,844.53 1334.46,844.39" fill="#ca4a3f"/>
<text x="1250.20" y="886.15" font-size="12.18" text-anchor="middle" fill="#111" stroke="#111" stroke-width="0.24" >24g</text>
<text x="1379.00" y="886.15" font-size="12.18" text-anchor="middle" fill="#111" stroke="#111" stroke-width="0.24" >4g</text>
<text x="1468.90" y="886.15" font-size="12.18" text-anchor="middle" fill="#111" stroke="#111" stroke-width="0.24" >29,5g</text>
<text x="1584.80" y="886.15" font-size="12.18" text-anchor="middle" fill="#111" stroke="#111" stroke-width="0.24" >177g</text>
<text x="1314.80" y="878.55" font-size="12.18" text-anchor="middle" fill="#111" stroke="#111" stroke-width="0.24" >GSW</text>
<text x="1286.20" y="892.75" font-size="12.18" text-anchor="start" fill="#111" stroke="#111" stroke-width="0.24" >≈ 1,5g</text>
<polygon points="1325.96,884.15 1326.62,885.74 1328.34,885.88 1327.03,887.00 1327.43,888.67 1325.96,887.78 1324.49,888.67 1324.89,887.00 1323.58,885.88 1325.30,885.74" fill="#ca4a3f"/>
<polygon points="1330.68,884.15 1331.34,885.74 1333.06,885.88 1331.75,887.00 1332.15,888.67 1330.68,887.78 1329.21,888.67 1329.61,887.00 1328.30,885.88 1330.02,885.74" fill="#ca4a3f"/>
<polygon points="1335.40,884.15 1336.06,885.74 1337.78,885.88 1336.47,887.00 1336.87,888.67 1335.40,887.78 1333.93,888.67 1334.33,887.00 1333.02,885.88 1334.74,885.74" fill="#ca4a3f"/>
<polygon points="1340.12,884.15 1340.78,885.74 1342.50,885.88 1341.19,887.00 1341.59,888.67 1340.12,887.78 1338.65,888.67 1339.05,887.00 1337.74,885.88 1339.46,885.74" fill="#ca4a3f"/>
<polygon points="1220.30,913.00 1220.99,914.65 1222.77,914.80 1221.41,915.96 1221.83,917.70 1220.30,916.77 1218.77,917.70 1219.19,915.96 1217.83,914.80 1219.61,914.65" fill="#ca4a3f"/>
<polygon points="1224.90,913.00 1225.59,914.65 1227.37,914.80 1226.01,915.96 1226.43,917.70 1224.90,916.77 1223.37,917.70 1223.79,915.96 1222.43,914.80 1224.21,914.65" fill="#ca4a3f"/>
<polygon points="1229.50,913.00 1230.19,914.65 1231.97,914.80 1230.61,915.96 1231.03,917.70 1229.50,916.77 1227.97,917.70 1228.39,915.96 1227.03,914.80 1228.81,914.65" fill="#ca4a3f"/>
<polygon points="1234.10,913.00 1234.79,914.65 1236.57,914.80 1235.21,915.96 1235.63,917.70 1234.10,916.77 1232.57,917.70 1232.99,915.96 1231.63,914.80 1233.41,914.65" fill="#ca4a3f"/>
<text x="1240.20" y="922.10" font-size="12.18" text-anchor="start" fill="#111" stroke="#111" stroke-width="0.24" >Weight and Color can vary slightly because wood is a natural product</text>
<text x="1242.00" y="936.60" font-size="12.18" text-anchor="start" fill="#111" stroke="#111" stroke-width="0.24" >Gewicht und Farbe können leicht variieren, da Holz ein Naturprodukt ist</text>
<defs><linearGradient id="sh" x1="0" y1="0" x2="0" y2="1"><stop offset="0" stop-color="#fff"/><stop offset="0.5" stop-color="#f7f7f7"/><stop offset="1" stop-color="#e9e9e9"/></linearGradient><linearGradient id="shm" x1="0" y1="0" x2="1" y2="0"><stop offset="0" stop-color="#000"/><stop offset="0.06" stop-color="#fff"/><stop offset="0.975" stop-color="#fff"/><stop offset="1" stop-color="#000"/></linearGradient><mask id="shmask"><rect x="462" y="1060" width="1218" height="45" fill="url(#shm)"/></mask></defs>
<rect x="462" y="1066" width="1218" height="35.5" fill="url(#sh)" mask="url(#shmask)"/>
<polygon points="471.20,987.90 472.07,990.00 474.34,990.18 472.61,991.66 473.14,993.87 471.20,992.69 469.26,993.87 469.79,991.66 468.06,990.18 470.33,990.00" fill="#ca4a3f"/>
<text x="488.60" y="1000.90" font-size="12.18" text-anchor="start" fill="#111" stroke="#111" stroke-width="0.24" >For standard 6 string guitars/Für standard 6 saitige Gitarren:</text>
<text x="488.60" y="1016.00" font-size="12.18" text-anchor="start" fill="#111" stroke="#111" stroke-width="0.24" >1th-6th string tuners has a 1,8mm string hole (max. string diameter 0.070 inch)</text>
<text x="488.60" y="1031.30" font-size="12.18" text-anchor="start" fill="#111" stroke="#111" stroke-width="0.24" >Die Mechaniken der 1.-6. Saite haben ein 1,8mm Saitenloch (max. Saitendicke 0.070 inch/70er Saite)</text>
<polygon points="471.20,1049.80 472.07,1051.90 474.34,1052.08 472.61,1053.56 473.14,1055.77 471.20,1054.58 469.26,1055.77 469.79,1053.56 468.06,1052.08 470.33,1051.90" fill="#ca4a3f"/>
<polygon points="477.10,1049.80 477.97,1051.90 480.24,1052.08 478.51,1053.56 479.04,1055.77 477.10,1054.58 475.16,1055.77 475.69,1053.56 473.96,1052.08 476.23,1051.90" fill="#ca4a3f"/>
<text x="488.10" y="1062.70" font-size="12.18" text-anchor="start" fill="#111" stroke="#111" stroke-width="0.24" >For 7-10 string guitars/für 7-10 saitige Gitarren:</text>
<text x="488.10" y="1077.90" font-size="12.18" text-anchor="start" fill="#111" stroke="#111" stroke-width="0.24" >7th-10th string tuners has a 2,3mm string hole (max. string diameter 0.090 inch)</text>
<text x="488.10" y="1092.90" font-size="12.18" text-anchor="start" fill="#111" stroke="#111" stroke-width="0.24" >Die Mechaniken der 7.-10. Saite haben ein 2,3mm Saitenloch (max. Saitendicke 0.090 inch/90er Saite)</text>
<polygon points="1220.70,988.80 1221.55,990.84 1223.74,991.01 1222.07,992.44 1222.58,994.59 1220.70,993.44 1218.82,994.59 1219.33,992.44 1217.66,991.01 1219.85,990.84" fill="#ca4a3f"/>
<polygon points="1226.70,988.80 1227.55,990.84 1229.74,991.01 1228.07,992.44 1228.58,994.59 1226.70,993.44 1224.82,994.59 1225.33,992.44 1223.66,991.01 1225.85,990.84" fill="#ca4a3f"/>
<polygon points="1232.70,988.80 1233.55,990.84 1235.74,991.01 1234.07,992.44 1234.58,994.59 1232.70,993.44 1230.82,994.59 1231.33,992.44 1229.66,991.01 1231.85,990.84" fill="#ca4a3f"/>
<text x="1241.70" y="999.10" font-size="12.18" text-anchor="start" fill="#111" stroke="#111" stroke-width="0.24" >Maximum Headstok thickness: 16mm</text>
<text x="1241.70" y="1015.90" font-size="12.18" text-anchor="start" fill="#111" stroke="#111" stroke-width="0.24" >Minimum Headstock thickness: 12,7mm</text>
<text x="1241.70" y="1045.20" font-size="12.18" text-anchor="start" fill="#111" stroke="#111" stroke-width="0.24" >Maximale Kopfplatten Dicke: 16mm</text>
<text x="1241.70" y="1060.30" font-size="12.18" text-anchor="start" fill="#111" stroke="#111" stroke-width="0.24" >Minimale Kopfplatten Dicke: 12,7mm</text>
<text x="442.50" y="1144.90" font-size="12.87" text-anchor="start" fill="#111" stroke="#111" stroke-width="0.26" font-style="italic">All dimensions in Millimeter (mm).</text>
<text x="442.50" y="1160.70" font-size="12.87" text-anchor="start" fill="#111" stroke="#111" stroke-width="0.26" font-style="italic">Alle Maße in Millimeter (mm).</text>
<rect x="1065.5" y="1111.2" width="833.5" height="217.29999999999995" fill="#fff" stroke="#111" stroke-width="1.6"/>
<line x1="1065.50" y1="1156.90" x2="1899.00" y2="1156.90" stroke="#111" stroke-width="1.6" />
<line x1="1176.30" y1="1111.20" x2="1176.30" y2="1156.90" stroke="#111" stroke-width="1.6" />
<line x1="1334.00" y1="1111.20" x2="1334.00" y2="1328.50" stroke="#111" stroke-width="1.6" />
<line x1="1616.30" y1="1111.20" x2="1616.30" y2="1328.50" stroke="#111" stroke-width="1.6" />
<line x1="1334.00" y1="1203.60" x2="1899.00" y2="1203.60" stroke="#111" stroke-width="1.6" />
<line x1="1616.30" y1="1282.20" x2="1899.00" y2="1282.20" stroke="#111" stroke-width="1.6" />
<line x1="1662.30" y1="1282.20" x2="1662.30" y2="1328.50" stroke="#111" stroke-width="1.6" />
<line x1="1829.50" y1="1282.20" x2="1829.50" y2="1328.50" stroke="#111" stroke-width="1.6" />
<text x="1070.10" y="1123.80" font-size="11.7" text-anchor="start" fill="#111" stroke="#111" stroke-width="0.23" >Dept.</text>
<text x="1070.10" y="1149.90" font-size="22.3" text-anchor="start" fill="#111" stroke="#111" stroke-width="0.45" >GM-1</text>
<text x="1181.80" y="1123.80" font-size="11.7" text-anchor="start" fill="#111" stroke="#111" stroke-width="0.23" >Technical reference</text>
<text x="1181.80" y="1149.90" font-size="22.3" text-anchor="start" fill="#111" stroke="#111" stroke-width="0.45" >MB</text>
<text x="1339.10" y="1123.80" font-size="11.7" text-anchor="start" fill="#111" stroke="#111" stroke-width="0.23" >Created by</text>
<text x="1339.10" y="1149.90" font-size="22.3" text-anchor="start" fill="#111" stroke="#111" stroke-width="0.45" >MB</text>
<text x="1609.40" y="1149.90" font-size="22.3" text-anchor="end" fill="#111" stroke="#111" stroke-width="0.45" >04.10.21</text>
<text x="1621.10" y="1123.80" font-size="11.7" text-anchor="start" fill="#111" stroke="#111" stroke-width="0.23" >Approved by</text>
<text x="1621.10" y="1149.90" font-size="22.3" text-anchor="start" fill="#111" stroke="#111" stroke-width="0.45" >JS</text>
<text x="1892.00" y="1149.90" font-size="22.3" text-anchor="end" fill="#111" stroke="#111" stroke-width="0.45" >11.10.2021</text>
<text x="1339.10" y="1170.00" font-size="11.7" text-anchor="start" fill="#111" stroke="#111" stroke-width="0.23" >Document type</text>
<text x="1339.00" y="1195.90" font-size="22.7" text-anchor="start" fill="#111" stroke="#111" stroke-width="0.45" >Technical Drawing</text>
<text x="1621.10" y="1170.00" font-size="11.7" text-anchor="start" fill="#111" stroke="#111" stroke-width="0.23" >Document status</text>
<text x="1621.00" y="1195.90" font-size="22.7" text-anchor="start" fill="#111" stroke="#111" stroke-width="0.45" >Released</text>
<text x="1339.10" y="1216.70" font-size="11.7" text-anchor="start" fill="#111" stroke="#111" stroke-width="0.23" >Title</text>
<text x="1338.60" y="1252.60" font-size="32.3" text-anchor="start" fill="#111" stroke="#111" stroke-width="0.65" >Guitar Monkey</text>
<text x="1338.60" y="1286.80" font-size="32.3" text-anchor="start" fill="#111" stroke="#111" stroke-width="0.65" >Monkey Locks</text>
<text x="1338.60" y="1321.30" font-size="32.4" text-anchor="start" fill="#111" stroke="#111" stroke-width="0.65" >Locking Tuners</text>
<text x="1621.10" y="1216.70" font-size="11.7" text-anchor="start" fill="#111" stroke="#111" stroke-width="0.23" >DWG No.</text>
<text x="1758.00" y="1260.40" font-size="32.3" text-anchor="middle" fill="#111" stroke="#111" stroke-width="0.65" >1.0</text>
<text x="1621.10" y="1295.00" font-size="11.7" text-anchor="start" fill="#111" stroke="#111" stroke-width="0.23" >Rev.</text>
<text x="1624.40" y="1321.10" font-size="22.4" text-anchor="start" fill="#111" stroke="#111" stroke-width="0.45" >1.0</text>
<text x="1667.60" y="1295.00" font-size="11.7" text-anchor="start" fill="#111" stroke="#111" stroke-width="0.23" >Date of issue</text>
<text x="1667.40" y="1321.10" font-size="22.45" text-anchor="start" fill="#111" stroke="#111" stroke-width="0.45" >31.01.2022</text>
<text x="1834.60" y="1295.00" font-size="11.7" text-anchor="start" fill="#111" stroke="#111" stroke-width="0.23" >Sheet</text>
<text x="1848.60" y="1321.10" font-size="22.4" text-anchor="start" fill="#111" stroke="#111" stroke-width="0.45" >1/1</text>
<g transform="translate(1155.000,1172.000) scale(0.07854)">
<path fill="#111" d="M525,95 L592,160 C700,195 800,265 880,360 C915,420 950,520 968,620 C965,700 940,750 905,795 L898,760 L862,850 L848,822 L820,905 L800,880 L770,960 C760,1040 730,1100 690,1170 C650,1215 600,1235 548,1235 C500,1230 450,1205 415,1165 C380,1120 350,1060 335,990 L300,905 L285,925 L262,845 L240,860 L215,790 L195,800 C150,740 125,680 130,620 C140,540 180,470 200,400 C225,350 260,310 300,290 L285,270 L382,255 L318,190 L430,200 L478,215 L463,120 L512,172 Z"/>
<path fill="#fff" d="M262,425 C240,480 190,560 178,640 C180,690 200,730 222,762 L234,715 L262,792 L280,758 L305,832 L320,785 L338,735 C342,700 346,680 352,660 C310,640 275,560 262,425 Z"/><path fill="#fff" d="M834 425 C856 480 906 560 918 640 C916 690 896 730 874 762 L862 715 L834 792 L816 758 L791 832 L776 785 L758 735 C754 700 750 680 744 660 C786 640 821 560 834 425 Z"/>
<path fill="#fff" d="M268,420 C350,440 450,450 548,450 C646,450 746,440 828,420 C845,480 830,560 790,620 C740,662 640,642 548,642 C456,642 356,662 306,620 C266,560 251,480 268,420 Z"/>
<path fill="#111" d="M262,446 C340,456 420,482 480,512 L548,492 L616,512 C676,482 756,456 834,446 C842,500 818,562 770,592 C715,607 660,592 636,564 L612,584 L642,632 L600,646 L548,616 L496,646 L454,632 L484,584 L460,564 C436,592 381,607 326,592 C278,562 254,500 262,446 Z"/>
<path fill="#fff" d="M316,503 C345,488 398,497 428,540 C396,562 338,556 316,503 Z"/><path fill="#fff" d="M780 503 C751 488 698 497 668 540 C700 562 758 556 780 503 Z"/>
<path fill="#fff" d="M498,574 C520,560 576,560 598,574 L604,602 L548,590 L492,602 Z"/>
<path fill="#fff" d="M322,792 C325,700 400,648 548,645 C696,648 771,700 774,792 L745,885 C748,800 720,742 548,730 C376,742 348,800 351,885 Z"/>
<path fill="none" stroke="#111" stroke-width="9" d="M345,805 C350,728 420,692 548,688 C676,692 746,728 751,805"/>
<path fill="#fff" d="M418,900 C418,1000 450,1060 548,1068 C646,1060 678,1000 678,900 L655,900 C655,985 630,1035 548,1042 C466,1035 441,985 441,900 Z"/>
<path fill="#fff" d="M500,880 C500,850 526,845 536,870 L548,892 L560,870 C570,845 596,850 596,880 L596,960 C596,990 575,1000 548,1000 C521,1000 500,990 500,960 Z"/>
<path fill="#fff" d="M385,1020 C400,1100 455,1180 548,1195 C641,1180 696,1100 711,1020 L690,1000 C680,1060 645,1105 548,1110 C451,1105 416,1060 406,1000 Z"/>
</g>
<g transform="translate(636.300,350.585) scale(0.04963)">
<path fill="#111" d="M525,95 L592,160 C700,195 800,265 880,360 C915,420 950,520 968,620 C965,700 940,750 905,795 L898,760 L862,850 L848,822 L820,905 L800,880 L770,960 C760,1040 730,1100 690,1170 C650,1215 600,1235 548,1235 C500,1230 450,1205 415,1165 C380,1120 350,1060 335,990 L300,905 L285,925 L262,845 L240,860 L215,790 L195,800 C150,740 125,680 130,620 C140,540 180,470 200,400 C225,350 260,310 300,290 L285,270 L382,255 L318,190 L430,200 L478,215 L463,120 L512,172 Z"/>
<path fill="#fff" d="M262,425 C240,480 190,560 178,640 C180,690 200,730 222,762 L234,715 L262,792 L280,758 L305,832 L320,785 L338,735 C342,700 346,680 352,660 C310,640 275,560 262,425 Z"/><path fill="#fff" d="M834 425 C856 480 906 560 918 640 C916 690 896 730 874 762 L862 715 L834 792 L816 758 L791 832 L776 785 L758 735 C754 700 750 680 744 660 C786 640 821 560 834 425 Z"/>
<path fill="#fff" d="M268,420 C350,440 450,450 548,450 C646,450 746,440 828,420 C845,480 830,560 790,620 C740,662 640,642 548,642 C456,642 356,662 306,620 C266,560 251,480 268,420 Z"/>
<path fill="#111" d="M262,446 C340,456 420,482 480,512 L548,492 L616,512 C676,482 756,456 834,446 C842,500 818,562 770,592 C715,607 660,592 636,564 L612,584 L642,632 L600,646 L548,616 L496,646 L454,632 L484,584 L460,564 C436,592 381,607 326,592 C278,562 254,500 262,446 Z"/>
<path fill="#fff" d="M316,503 C345,488 398,497 428,540 C396,562 338,556 316,503 Z"/><path fill="#fff" d="M780 503 C751 488 698 497 668 540 C700 562 758 556 780 503 Z"/>
<path fill="#fff" d="M498,574 C520,560 576,560 598,574 L604,602 L548,590 L492,602 Z"/>
<path fill="#fff" d="M322,792 C325,700 400,648 548,645 C696,648 771,700 774,792 L745,885 C748,800 720,742 548,730 C376,742 348,800 351,885 Z"/>
<path fill="none" stroke="#111" stroke-width="9" d="M345,805 C350,728 420,692 548,688 C676,692 746,728 751,805"/>
<path fill="#fff" d="M418,900 C418,1000 450,1060 548,1068 C646,1060 678,1000 678,900 L655,900 C655,985 630,1035 548,1042 C466,1035 441,985 441,900 Z"/>
<path fill="#fff" d="M500,880 C500,850 526,845 536,870 L548,892 L560,870 C570,845 596,850 596,880 L596,960 C596,990 575,1000 548,1000 C521,1000 500,990 500,960 Z"/>
<path fill="#fff" d="M385,1020 C400,1100 455,1180 548,1195 C641,1180 696,1100 711,1020 L690,1000 C680,1060 645,1105 548,1110 C451,1105 416,1060 406,1000 Z"/>
</g>
<path d="M1240.85,1189.97 A54.5,54.5 0 0 1 1240.85,1260.03" stroke="#111" stroke-width="1.1" fill="none" />
<path d="M1240.87,1193.53 A52.3,52.3 0 0 1 1240.87,1256.47" stroke="#111" stroke-width="0.8" fill="none" />
<line x1="1235.52" y1="1185.94" x2="1238.16" y2="1188.58" stroke="#111" stroke-width="1.6" />
<line x1="1235.30" y1="1188.80" x2="1236.86" y2="1187.24" stroke="#111" stroke-width="1.0" />
<path d="M1234.13,1266.75 A54.5,54.5 0 0 1 1164.07,1266.75" stroke="#111" stroke-width="1.1" fill="none" />
<path d="M1230.57,1266.77 A52.3,52.3 0 0 1 1167.63,1266.77" stroke="#111" stroke-width="0.8" fill="none" />
<line x1="1238.16" y1="1261.42" x2="1235.52" y2="1264.06" stroke="#111" stroke-width="1.6" />
<line x1="1235.30" y1="1261.20" x2="1236.86" y2="1262.76" stroke="#111" stroke-width="1.0" />
<path d="M1157.35,1260.03 A54.5,54.5 0 0 1 1157.35,1189.97" stroke="#111" stroke-width="1.1" fill="none" />
<path d="M1157.33,1256.47 A52.3,52.3 0 0 1 1157.33,1193.53" stroke="#111" stroke-width="0.8" fill="none" />
<line x1="1162.68" y1="1264.06" x2="1160.04" y2="1261.42" stroke="#111" stroke-width="1.6" />
<line x1="1162.90" y1="1261.20" x2="1161.34" y2="1262.76" stroke="#111" stroke-width="1.0" />
<path d="M1164.07,1183.25 A54.5,54.5 0 0 1 1234.13,1183.25" stroke="#111" stroke-width="1.1" fill="none" />
<path d="M1167.63,1183.23 A52.3,52.3 0 0 1 1230.57,1183.23" stroke="#111" stroke-width="0.8" fill="none" />
<line x1="1160.04" y1="1188.58" x2="1162.68" y2="1185.94" stroke="#111" stroke-width="1.6" />
<line x1="1162.90" y1="1188.80" x2="1161.34" y2="1187.24" stroke="#111" stroke-width="1.0" />
<g transform="translate(1098,1262) scale(0.05139)">
<g fill="none" stroke="#111" stroke-linecap="round" stroke-linejoin="round">
<path stroke="#fff" stroke-width="150" d="M860,200 C600,300 300,560 170,860"/>
<path fill="#111" stroke="none" d="M942,245 C935,195 890,125 810,125 C640,140 330,420 140,760 C85,870 80,985 200,1012 C330,1015 480,840 640,650 L790,480 L758,470 C660,560 500,760 360,880 C300,930 232,975 220,935 C222,872 322,655 490,475 C620,345 775,228 862,203 C890,198 905,215 915,240 Z"/>
<path fill="#111" stroke="none" d="M470,570 C600,480 800,370 920,340 C960,335 990,350 1005,385 C900,420 700,500 510,600 C485,605 470,590 470,570 Z"/>
<path fill="#111" stroke="none" d="M790,475 L868,470 C850,560 780,760 715,995 C680,985 620,940 595,890 C640,760 720,580 790,475 Z"/>
<path stroke-width="52" d="M805,745 C778,830 765,925 800,945 C850,925 900,830 932,725 C905,800 892,880 922,898 C960,888 1000,830 1040,780"/>
<path stroke-width="52" d="M1092,745 C1062,810 1042,880 1072,898 C1110,888 1150,830 1180,780"/>
<circle cx="1106" cy="678" r="24" fill="#111" stroke="none"/>
<path stroke-width="70" d="M1338,448 C1290,600 1222,800 1184,925 C1200,945 1240,900 1270,860"/>
<path stroke-width="26" d="M1122,602 C1300,570 1450,546 1598,532"/>
<path stroke-width="58" d="M1450,662 C1380,680 1330,780 1342,838 C1380,848 1430,760 1470,662 C1450,730 1430,800 1452,828 C1490,828 1540,770 1580,720"/>
<path stroke-width="54" d="M1622,645 C1600,720 1580,780 1572,838 M1600,745 C1650,680 1720,642 1758,652 C1770,690 1750,730 1746,768 C1770,758 1800,720 1830,690"/>
</g>
</g>
<g transform="translate(1188,1258) scale(0.06013)">
<g fill="none" stroke="#111" stroke-linecap="round" stroke-linejoin="round">
<path stroke="#fff" stroke-width="90" d="M100,570 C150,430 280,280 390,225 C350,400 290,600 252,725 M470,540 C560,400 700,230 812,120 C770,300 720,500 695,650"/>
<path stroke-width="60" d="M92,578 C150,430 280,285 388,224"/>
<path stroke-width="86" d="M392,232 C350,400 292,600 254,722"/>
<path stroke-width="26" d="M265,700 C330,560 420,380 480,297"/>
<path stroke-width="50" d="M480,297 C470,380 465,460 470,538"/>
<path stroke-width="36" d="M470,540 C560,400 700,230 810,122"/>
<path stroke-width="80" d="M808,132 C770,300 722,500 697,650"/>
<path stroke-width="48" d="M850,452 C780,470 760,590 810,600 C870,590 900,480 850,452"/>
<path stroke-width="26" d="M870,470 C920,500 960,470 990,432"/>
<path stroke-width="46" d="M990,432 C970,480 950,540 940,568 M960,520 C1000,460 1060,412 1090,430 C1100,470 1080,510 1080,540 C1100,560 1150,520 1180,480"/>
</g>
</g>
<g transform="translate(1255,1262) scale(0.03636)">
<g fill="none" stroke="#111" stroke-linecap="round" stroke-linejoin="round">
<path stroke-width="82" d="M285,240 C230,400 160,620 108,825"/>
<path stroke-width="40" d="M170,640 C220,580 280,520 322,498"/>
<path stroke-width="46" d="M190,680 C220,720 240,760 268,772"/>
<path stroke-width="44" d="M268,772 C300,740 340,690 400,640 C440,600 520,560 508,520 C480,482 392,560 402,660 C420,740 520,720 600,650"/>
<path stroke-width="40" d="M600,650 C650,600 690,520 712,448"/>
<path stroke-width="54" d="M712,448 C700,520 690,620 725,660 C780,660 860,520 960,432"/>
<path stroke-width="40" d="M960,432 C1000,405 1050,420 1062,480 C1075,620 1020,860 900,1060 C840,1160 770,1240 720,1225 C650,1200 640,1100 690,980 C760,840 900,720 1050,620 C1110,575 1160,530 1205,492"/>
</g>
</g>
</svg>
</body></html>
